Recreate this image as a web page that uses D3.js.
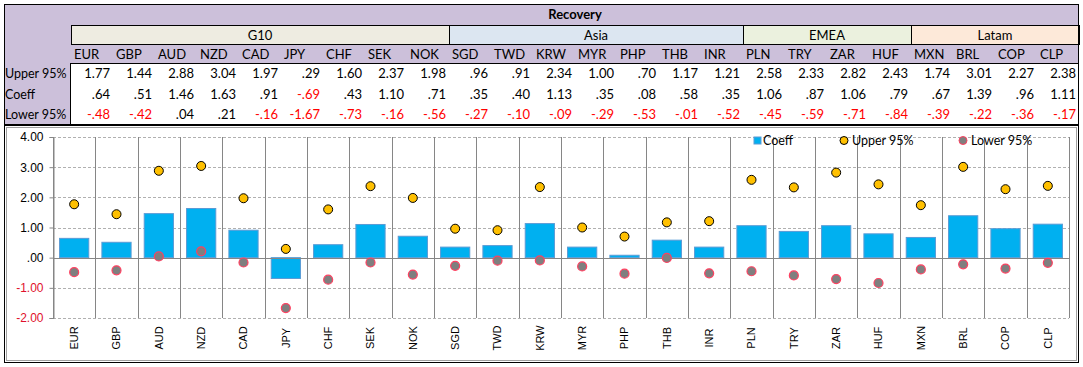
<!DOCTYPE html>
<html>
<head>
<meta charset="utf-8">
<script src="https://cdn.jsdelivr.net/npm/d3@7"></script>
<style>
  body { margin: 0; background: #fff; }
  svg { display: block; }
</style>
</head>
<body>
<div id="chart"></div>
<script>
const title = "Recovery"
const currencies = ["EUR","GBP","AUD","NZD","CAD","JPY","CHF","SEK","NOK",
    "SGD","TWD","KRW","MYR","PHP","THB","INR",
    "PLN","TRY","ZAR","HUF",
    "MXN","BRL","COP","CLP"]
const groupNames = ["G10", "Asia", "EMEA", "Latam"]
const groupSizes = [9, 7, 4, 4]
const rowLabels = ["Upper 95%", "Coeff", "Lower 95%"]

const upper = [1.77,1.44,2.88,3.04,1.97,.29,1.60,2.37,1.98,
    .96,.91,2.34,1.00,.70,1.17,1.21,
    2.58,2.33,2.82,2.43,
    1.74,3.01,2.27,2.38]
const coeff = [.64,.51,1.46,1.63,.91,-.69,.43,1.10,.71,
    .35,.40,1.13,.35,.08,.58,.35,
    1.06,.87,1.06,.79,
    .67,1.39,.96,1.11]
const lower = [-.48,-.42,.04,.21,-.16,-1.67,-.73,-.16,-.56,
    -.27,-.10,-.09,-.29,-.53,-.01,-.52,
    -.45,-.59,-.71,-.84,
    -.39,-.22,-.36,-.17]
const yTicks = [4, 3, 2, 1, 0, -1, -2]

const groupFill = { "G10": "#eeece1", "Asia": "#dce6f1", "EMEA": "#ebf1de", "Latam": "#fde9d9" }

const width = 1083
const height = 367

// excel style: no leading zero, plain hyphen
const fmt = v => (v < 0 ? "-" : "") + d3.format(".2f")(Math.abs(v)).replace(/^0\./, ".")
const red = "#ff0000"

const svg = d3.select("#chart").append("svg")
    .attr("width", width)
    .attr("height", height)

// ---------- table ----------
const tbl = svg.append("g").attr("font-family", "Lato, 'Open Sans', sans-serif").attr("font-size", 13)

const colX = d3.scaleBand().domain(currencies).range([71, 1079])
const rowY = d3.scaleBand().domain(rowLabels).range([63, 124])

tbl.append("rect").attr("x", 4).attr("y", 4).attr("width", 1075).attr("height", 120).attr("fill", "#ccc0da")
tbl.append("rect").attr("x", 71).attr("y", 63).attr("width", 1008).attr("height", 61).attr("fill", "#fff")

tbl.append("text").attr("x", (71 + 1079) / 2).attr("y", 19)
    .attr("text-anchor", "middle").attr("font-weight", "bold").text(title)

// region header boxes
let start = 0
const groups = groupNames.map((g, i) => {
    const g0 = { name: g, first: currencies[start], last: currencies[start + groupSizes[i] - 1] }
    start += groupSizes[i]
    return g0
})
tbl.selectAll(".grp").data(groups).enter().append("rect")
    .attr("class", "grp")
    .attr("x", d => colX(d.first) + 0.5)
    .attr("y", 25.5)
    .attr("width", d => colX(d.last) + colX.bandwidth() - colX(d.first))
    .attr("height", 19)
    .attr("fill", d => groupFill[d.name])
    .attr("stroke", "#000")
tbl.selectAll(".grpt").data(groups).enter().append("text")
    .attr("x", d => (colX(d.first) + colX(d.last) + colX.bandwidth()) / 2)
    .attr("y", 40)
    .attr("text-anchor", "middle")
    .text(d => d.name)

// currency headers
tbl.selectAll(".hdr").data(currencies).enter().append("text")
    .attr("x", d => colX(d) + 3)
    .attr("y", 59)
    .text(d => d)

// row labels
tbl.selectAll(".rl").data(rowLabels).enter().append("text")
    .attr("x", 5)
    .attr("y", d => rowY(d) + rowY.bandwidth() / 2 + 5)
    .attr("font-size", 12.5)
    .text(d => d)

const rows = [upper, coeff, lower]
rows.forEach((vals, r) => {
    tbl.selectAll(".v" + r).data(vals).enter().append("text")
        .attr("x", (d, i) => colX(currencies[i]) + colX.bandwidth() - 3)
        .attr("y", rowY(rowLabels[r]) + rowY.bandwidth() / 2 + 5)
        .attr("text-anchor", "end")
        .attr("fill", d => d < 0 ? red : "#000")
        .text(d => fmt(d))
})

// table borders
tbl.append("line").attr("x1", 71).attr("x2", 1079).attr("y1", 63.5).attr("y2", 63.5).attr("stroke", "#000")
tbl.append("line").attr("x1", 70.5).attr("x2", 70.5).attr("y1", 63).attr("y2", 124).attr("stroke", "#000")
tbl.append("rect").attr("x", 4.5).attr("y", 4.5).attr("width", 1074).attr("height", 120)
    .attr("fill", "none").attr("stroke", "#000")

// ---------- chart ----------
const ch = svg.append("g")
ch.append("rect").attr("x", 4.5).attr("y", 125.5).attr("width", 1074).attr("height", 237)
    .attr("fill", "#fff").attr("stroke", "#000")
ch.append("rect").attr("x", 6.5).attr("y", 127.5).attr("width", 1070).attr("height", 233)
    .attr("fill", "none").attr("stroke", "#a0a0a0")

const x = d3.scaleBand().domain(currencies).range([53, 1069])
const xBar = d3.scaleBand().domain(currencies).range([53, 1069]).paddingInner(0.31).paddingOuter(0.155)
const y = d3.scaleLinear().domain([-2, 4]).range([318, 137])

// horizontal gridlines
ch.selectAll(".hg").data(yTicks.filter(t => t !== 0)).enter().append("line")
    .attr("x1", 53).attr("x2", 1069)
    .attr("y1", d => Math.round(y(d)) + 0.5).attr("y2", d => Math.round(y(d)) + 0.5)
    .attr("stroke", "#b0b0b0").attr("stroke-dasharray", "3,2")

// vertical category lines
const bounds = currencies.map(c => x(c)).concat([1069])
ch.selectAll(".vg").data(bounds).enter().append("line")
    .attr("x1", d => Math.round(d) + 0.5).attr("x2", d => Math.round(d) + 0.5)
    .attr("y1", y(4)).attr("y2", y(-2))
    .attr("stroke", "#868686")

// y axis
const yAxis = ch.append("g")
    .attr("transform", "translate(53.5,0)")
    .attr("font-family", "'Liberation Sans', Arial, sans-serif")
    .call(d3.axisLeft(y).tickValues(yTicks).tickSize(4).tickPadding(6).tickFormat(fmt))
yAxis.select(".domain").attr("stroke", "#868686")
yAxis.selectAll(".tick line").attr("stroke", "#868686")
yAxis.selectAll(".tick text").attr("font-size", 12)
    .attr("fill", d => d < 0 ? "#e0102c" : "#000")

// bars
ch.selectAll(".bar").data(coeff).enter().append("rect")
    .attr("class", "bar")
    .attr("x", (d, i) => xBar(currencies[i]))
    .attr("width", xBar.bandwidth())
    .attr("y", d => y(Math.max(0, d)))
    .attr("height", d => Math.abs(y(d) - y(0)))
    .attr("fill", "#00b0f0")
    .attr("stroke", "#5a9bd5")
    .attr("stroke-width", 1)

// zero line
ch.append("line").attr("x1", 53).attr("x2", 1069)
    .attr("y1", Math.round(y(0)) + 0.5).attr("y2", Math.round(y(0)) + 0.5)
    .attr("stroke", "#868686")

// points
ch.selectAll(".up").data(upper).enter().append("circle")
    .attr("cx", (d, i) => x(currencies[i]) + x.bandwidth() / 2)
    .attr("cy", d => y(d))
    .attr("r", 4.5)
    .attr("fill", "#ffc000")
    .attr("stroke", "#000")
ch.selectAll(".lo").data(lower).enter().append("circle")
    .attr("cx", (d, i) => x(currencies[i]) + x.bandwidth() / 2)
    .attr("cy", d => y(d))
    .attr("r", 4.5)
    .attr("fill", "#7f7f7f")
    .attr("stroke", "#ff4060")
    .attr("stroke-width", 1.2)

// x labels
const xAxis = ch.append("g")
    .attr("transform", `translate(0,${y(-2)})`)
    .attr("font-family", "'Liberation Sans', Arial, sans-serif")
    .call(d3.axisBottom(x).tickSize(0))
xAxis.select(".domain").remove()
xAxis.selectAll(".tick text")
    .attr("font-size", 11)
    .attr("fill", "#000")
    .attr("y", 0).attr("dy", "0.35em")
    .attr("text-anchor", "middle")
    .attr("transform", "translate(0,20) rotate(-90)")

// legend
const lg = ch.append("g").attr("font-family", "Lato, sans-serif").attr("font-size", 12.5)
lg.append("rect").attr("x", 754).attr("y", 137).attr("width", 7).attr("height", 7)
    .attr("fill", "#00b0f0").attr("stroke", "#5a9bd5")
lg.append("text").attr("x", 763).attr("y", 145).text("Coeff")
lg.append("circle").attr("cx", 844).attr("cy", 140.5).attr("r", 4)
    .attr("fill", "#ffc000").attr("stroke", "#000")
lg.append("text").attr("x", 852).attr("y", 145).text("Upper 95%")
lg.append("circle").attr("cx", 963).attr("cy", 140.5).attr("r", 4)
    .attr("fill", "#7f7f7f").attr("stroke", "#ff4060")
lg.append("text").attr("x", 971).attr("y", 145).text("Lower 95%")
</script>
</body>
</html>
